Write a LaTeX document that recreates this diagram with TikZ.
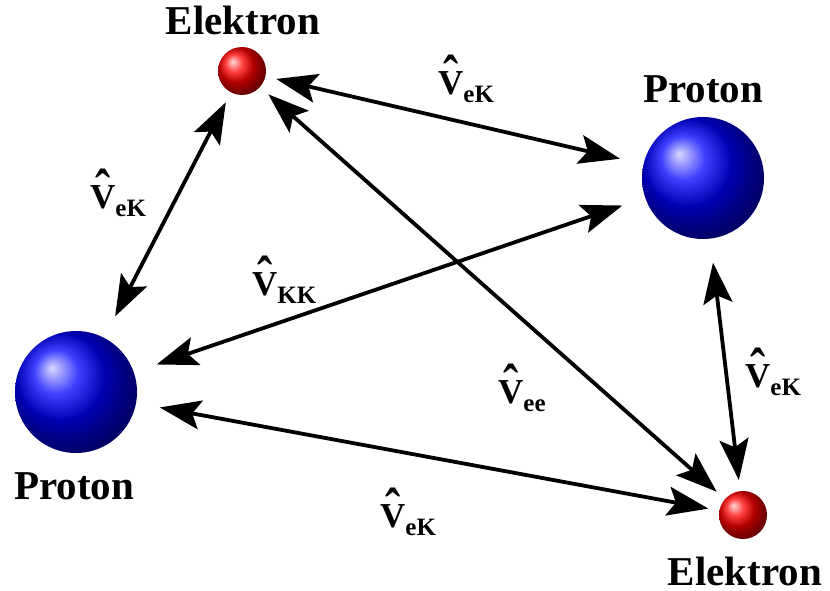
\documentclass[tikz,border=0pt]{standalone}
\usepackage{fontspec}
\usepackage{graphicx}
\setmainfont{Liberation Serif}
\usetikzlibrary{arrows.meta}
\usetikzlibrary{math}

% hat V, the circumflex stretched and centred over the letter
\newcommand{\hatV}{\ooalign{V\cr\hidewidth\scalebox{1.3}[1.6]{\char"02C6}\hidewidth\cr}}
% operator label: hat V with a subscript
\newcommand{\potl}[1]{{\fontsize{35}{35}\selectfont\hatV\raisebox{-8pt}{\fontsize{25}{25}\selectfont #1}}}

\tikzset{
  electron/.style={circle, inner sep=0pt, minimum size=2*\re pt, ball color=red},
  proton/.style={circle, inner sep=0pt, minimum size=2*\rp pt, ball color=blue},
  partname/.style={anchor=base, inner sep=0pt, font=\fontsize{41}{41}\selectfont\bfseries},
  oplabel/.style={anchor=base west, inner sep=0pt, font=\bfseries},
  link/.style={line width=3.8pt,
    {Stealth[length=41pt,width=29pt,inset=8pt]}-{Stealth[length=41pt,width=29pt,inset=8pt]}},
  atE/.style={shorten #1=11pt},
  atP/.style={shorten #1=24pt},
}

\begin{document}
\begin{tikzpicture}[x=1pt,y=-1pt]

\tikzmath{
\re = 24; %electron radius
\rp = 61; %proton radius
}

\useasboundingbox (0,0) rectangle (830,591);

%particles:
\node[electron] (E1) at (242,71) {};
\node[proton]   (P1) at (703,178) {};
\node[proton]   (P2) at (76,392) {};
\node[electron] (E2) at (743,515) {};

%names:
\node[partname] (nE1) at (243,35) {Elektron};
\node[partname] (nP1) at (703,103) {Proton};
\node[partname] (nP2) at (74,499) {Proton};
\node[partname] (nE2) at (745,585) {Elektron};

%interactions:
\draw[link, atE=<, atP=>] (E1) -- (P1);
\draw[link, atE=<, atP=>] (E1) -- (P2);
\draw[link, atE=<, atE=>] (E1) -- (E2);
\draw[link, atP=<, atP=>] (P1) -- (P2);
\draw[link, atP=<, atE=>] (P1) -- (E2);
\draw[link, atP=<, atE=>] (P2) -- (E2);

%operators:
\node[oplabel] (v1) at (438,95) {\potl{eK}};
\node[oplabel] (v2) at (90,208) {\potl{eK}};
\node[oplabel] (v3) at (498,403) {\potl{ee}};
\node[oplabel] (v4) at (252,295) {\potl{KK}};
\node[oplabel] (v5) at (745,387) {\potl{eK}};
\node[oplabel] (v6) at (380,527) {\potl{eK}};

\end{tikzpicture}
\end{document}
